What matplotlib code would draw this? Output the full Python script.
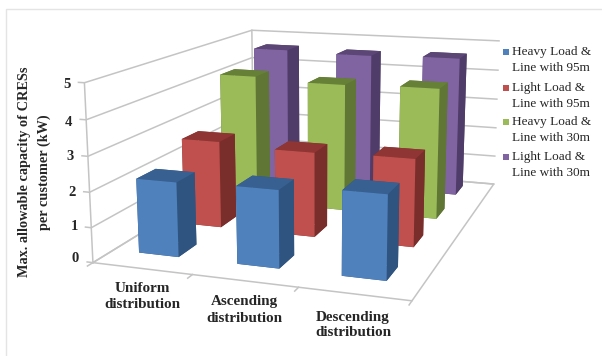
import matplotlib
matplotlib.use('Agg')
import matplotlib.pyplot as plt
from matplotlib.patches import Rectangle

# Allowable capacity per customer (kW), one list per load/line case
categories = ['Uniform\ndistribution', 'Ascending\ndistribution', 'Descending\ndistribution']
heavy_95m = [2.15, 2.2, 2.35]
light_95m = [2.65, 2.55, 2.6]
heavy_30m = [4.15, 4.05, 4.1]
light_30m = [4.6, 4.55, 4.6]
series_labels = ['Heavy Load &\nLine with 95m', 'Light Load &\nLine with 95m',
                 'Heavy Load &\nLine with 30m', 'Light Load &\nLine with 30m']
z_ticks = [0, 1, 2, 3, 4, 5]
series_values = [heavy_95m, light_95m, heavy_30m, light_30m]

# (front, side, top) face colours for each series
face_colors = [('#4F81BD', '#2F5480', '#386192'),
               ('#C0504D', '#7A2E2C', '#8F3634'),
               ('#9BBB59', '#5F7634', '#668137'),
               ('#8064A2', '#4F3C68', '#5B4676')]
GRID = '#C4C4C4'
TEXT = '#262626'
SERIF = 'Liberation Serif'

W, H = 602, 356
fig = plt.figure(figsize=(W/100, H/100), dpi=100)
fig.patch.set_facecolor('white')

ax = fig.add_axes([62.04/W, -39.22/H, 496.44/W, 496.44/H], projection='3d',
                  computed_zorder=False)
ax.set_xlim(0, 3, view_margin=0)
ax.set_ylim(0, 4, view_margin=0)
ax.set_zlim(0, 5, view_margin=0)
ax.view_init(12.796, -71.29)
ax.set_proj_type('persp', focal_length=0.411)
ax.set_box_aspect((2.885, 3.786, 1.606))
ax.set_axis_off()
ax.patch.set_alpha(0)

nx, ny = len(categories), len(series_values)
line = dict(color=GRID, lw=1.1, zorder=1)

# Gridlines on the left and back walls, with their ticks
for z in z_ticks:
    ax.plot([-0.06, 0, 0, nx], [0, 0, ny, ny], [z, z, z, z], **line)
ax.plot([0, 0], [0, 0], [0, z_ticks[-1]], **line)
ax.plot([0, 0], [ny, ny], [0, z_ticks[-1]], **line)
# Floor outline and category ticks
ax.plot([0, nx, nx, 0, 0], [0, 0, ny, ny, 0], [0, 0, 0, 0, 0], **line)
for i in range(nx + 1):
    ax.plot([i, i], [0, -0.1], [0, 0], **line)

# Bars, painted from the back row to the front
width, depth = 0.41, 0.40
for j in reversed(range(ny)):
    front, side, top = face_colors[j]
    for i in range(nx):
        x0 = i + (1 - width)/2 - 0.03
        y0 = j + (1 - depth)/2 + 0.1
        # face order: bottom, top, -y, +y, -x, +x
        colors = [side, top, front, side, side, side]
        ax.bar3d(x0, y0, 0, width, depth, series_values[j][i], color=colors,
                 shade=False, zorder=10 + (ny - j)*10 + i, linewidth=0)

def fx(px):
    return px / W

def fy(py):
    return 1 - py / H

# Value axis labels
for z, (px, py) in zip(z_ticks, [(75, 259), (74, 226), (72, 192), (70, 157), (68, 122), (67, 85)]):
    fig.text(fx(px), fy(py), str(z), ha='center', va='center', family=SERIF,
             weight='bold', fontsize=10.5, color=TEXT)

# Category labels follow the receding front edge
for label, (px, py) in zip(categories, [(142, 297), (244, 310), (353, 325)]):
    fig.text(fx(px), fy(py), label, ha='center', va='center', family=SERIF, weight='bold',
             fontsize=10.9, color=TEXT, linespacing=1.3)

fig.text(fx(25), fy(172), 'Max. allowable capacity of CRESs', rotation=90, ha='center', va='center',
         family=SERIF, weight='bold', fontsize=10.3, color=TEXT)
fig.text(fx(44), fy(172), 'per customer (kW)', rotation=90, ha='center', va='center',
         family=SERIF, weight='bold', fontsize=10.3, color=TEXT)

# Legend entries
for label, colors, py in zip(series_labels, face_colors, [52, 88, 122, 157]):
    fig.add_artist(Rectangle((fx(503), fy(py + 3)), 6/W, 6/H, transform=fig.transFigure,
                             facecolor=colors[0], edgecolor='none'))
    fig.text(fx(512), fy(py + 8), label, ha='left', va='center', family=SERIF,
             fontsize=9.5, color=TEXT, linespacing=1.4)

# Thin chart frame along the top and left
fig.add_artist(plt.Line2D([fx(5.5), fx(5.5), 1], [0, fy(9), fy(9)], transform=fig.transFigure,
                          color='#E4E4E4', lw=1))

fig.savefig('out.png', dpi=100)
